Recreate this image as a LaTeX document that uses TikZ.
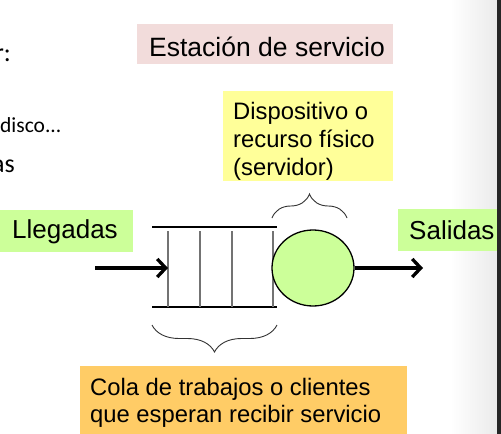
\documentclass[tikz,border=0pt]{standalone}
\usepackage{fontspec}
\setmainfont{Liberation Sans}
\newfontfamily\calfont{Carlito}
\usetikzlibrary{arrows.meta,decorations.pathreplacing,shapes.geometric}
\definecolor{pinkbox}{RGB}{242,220,219}
\definecolor{yellowbox}{RGB}{255,255,153}
\definecolor{greenbox}{RGB}{204,255,153}
\definecolor{orangebox}{RGB}{255,204,102}
\definecolor{queuegray}{RGB}{115,115,115}
\begin{document}
\begin{tikzpicture}[x=1pt,y=-1pt,
  lbl/.style={anchor=base west, inner sep=0pt, align=left, font=\fontsize{23.8}{27.5}\selectfont},
  biglbl/.style={lbl, font=\fontsize{26}{30}\selectfont},
  frag/.style={anchor=base east, inner sep=0pt, font=\calfont\fontsize{26}{30}\selectfont},
  flow/.style={line width=3.5pt, -{Straight Barb[length=8.5pt,width=18pt,line width=3.3pt]}},
  qline/.style={line width=1.3pt, black},
  qsep/.style={line width=1.6pt, queuegray},
  bracel/.style={draw=black!80, line width=0.9pt, decorate, decoration={brace, amplitude=#1}},
]
\useasboundingbox (0,0) rectangle (501,434);
\fill[white] (0,0) rectangle (501,434);
\shade[left color=white, right color=black!8] (450,0) rectangle (497,434);
\fill[black!85] (497,0) rectangle (501,434);

% fragments of text at the left edge
\node[frag] (fragA) at (11,61) {r:};
\node[frag, anchor=base west, font=\calfont\fontsize{21.5}{25}\selectfont] (fragB) at (0,132) {disco...};
\node[frag] (fragC) at (15,172) {as};

% title
\fill[pinkbox] (137,24) rectangle (393,64);
\node[biglbl, font=\fontsize{26.5}{30}\selectfont] (title) at (149,56) {Estación de servicio};

% server label
\fill[yellowbox] (223,91) rectangle (393,181);
\node[lbl, font=\fontsize{23.8}{28}\selectfont] (srvlbl) at (233,175) {Dispositivo o\\recurso físico\\(servidor)};

% arrivals / departures
\fill[greenbox] (0,210) rectangle (133,252);
\node[biglbl] (arr) at (12,238) {Llegadas};
\fill[greenbox] (398,209) rectangle (497,251);
\node[biglbl] (dep) at (409,239) {Salidas};

% queue label
\fill[orangebox] (80,366) rectangle (407,434);
\node[lbl, font=\fontsize{23.8}{27}\selectfont] (qlbl) at (90,422) {Cola de trabajos o clientes\\que esperan recibir servicio};

% queue
\coordinate (qtl) at (152,227);
\coordinate (qtr) at (277,227);
\coordinate (qbl) at (152,307);
\coordinate (qbr) at (277,307);
\draw[qline] (qtl) -- (qtr);
\draw[qline] (qbl) -- (qbr);
\foreach \xx in {168,200,232,273} {
  \draw[qsep] (\xx,231) -- (\xx,307);
}

% server
\node[ellipse, draw, line width=1.3pt, fill=greenbox, minimum width=82pt, minimum height=76pt, inner sep=0pt] (srv) at (313,268) {};

% flow arrows
\coordinate (instart) at (95,268);
\coordinate (qin) at (168,268);
\coordinate (outend) at (423,268);
\draw[flow] (instart) -- (qin);
\draw[flow] (srv.east) -- (outend);

% braces
\coordinate (bsA) at (272,218);
\coordinate (bsB) at (347,218);
\draw[bracel=24pt] (bsA) -- (bsB);
\coordinate (bqA) at (277,325);
\coordinate (bqB) at (152,325);
\draw[bracel=27pt] (bqA) -- (bqB);
\end{tikzpicture}
\end{document}
